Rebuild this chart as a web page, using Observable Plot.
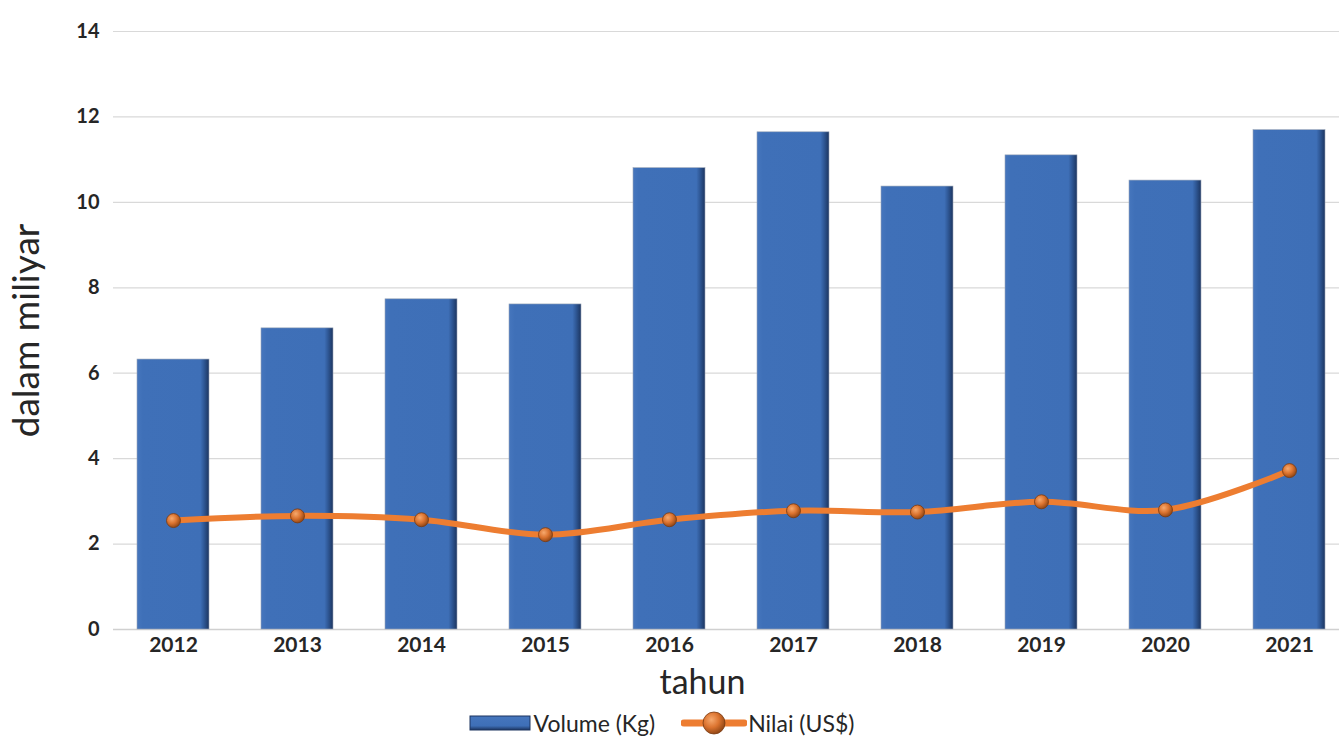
<!DOCTYPE html>
<html><head><meta charset="utf-8">
<script src="https://cdn.jsdelivr.net/npm/d3@7"></script>
<script src="https://cdn.jsdelivr.net/npm/@observablehq/plot@0.6"></script>
<style>
html,body{margin:0;padding:0;background:#fff;overflow:hidden;}
#chart{position:relative;width:1339px;height:736px;}
#legend{position:absolute;left:-8px;top:709px;width:1339px;display:flex;justify-content:center;align-items:center;font-family:Lato,"Open Sans",sans-serif;font-size:23px;color:#262626;}
#legend .item{display:flex;align-items:center;}
</style></head>
<body><div id="chart"></div>
<script>
const years = ["2012","2013","2014","2015","2016","2017","2018","2019","2020","2021"];
const volume = [6.32, 7.05, 7.73, 7.61, 10.80, 11.64, 10.37, 11.10, 10.51, 11.69];
const nilai = [2.55, 2.66, 2.57, 2.22, 2.57, 2.78, 2.75, 2.99, 2.80, 3.72];
const yTicks = [0, 2, 4, 6, 8, 10, 12, 14];

const data = years.map((y, i) => ({year: y, volume: volume[i], nilai: nilai[i]}));

const W = 1339, H = 706;
const plot = Plot.plot({
  width: W, height: H,
  marginLeft: 113, marginRight: 0, marginTop: 31, marginBottom: H - 629,
  style: {fontFamily: "Lato, 'Open Sans', sans-serif", background: "#fff", color: "#262626"},
  x: {domain: years, range: [108, 1353], paddingInner: 0.42, paddingOuter: 0.21, label: null},
  y: {domain: [0, 14], ticks: yTicks, label: null},
  marks: [
    Plot.ruleY(yTicks.filter(d => d > 0), {stroke: "#d9d9d9", strokeWidth: 1.2}),
    Plot.ruleY([0], {stroke: "#d0d0d0", strokeWidth: 1.5}),
    Plot.barY(data, {x: "year", y: "volume", fill: "url(#barGrad)", stroke: "#9aa6b8", strokeWidth: 0.6}),
    Plot.line(data, {x: "year", y: "nilai", stroke: "#ED7D31", strokeWidth: 6, curve: "catmull-rom"}),
    Plot.dot(data, {x: "year", y: "nilai", r: 7, fill: "url(#dotGrad)", stroke: "#7a3a10", strokeWidth: 0.8}),
    Plot.axisY({ticks: yTicks, tickSize: 0, tickPadding: 14, fontSize: 20, fontWeight: "bold", label: null}),
    Plot.axisX({tickSize: 0, tickPadding: 8, fontSize: 21, fontWeight: "bold", label: null}),
    Plot.text(["tahun"], {frameAnchor: "bottom", lineAnchor: "middle", dx: -24, dy: 54, fontSize: 34, fill: "#262626"}),
    Plot.text(["dalam miliyar"], {frameAnchor: "left", textAnchor: "middle", dx: -86, rotate: -90, fontSize: 37, fill: "#262626"})
  ]
});

const ns = "http://www.w3.org/2000/svg";
const defs = document.createElementNS(ns, "defs");
defs.innerHTML = `
<linearGradient id="barGrad" x1="0" x2="1" y1="0" y2="0">
  <stop offset="0" stop-color="#4676bd"/>
  <stop offset="0.08" stop-color="#3f70b8"/>
  <stop offset="0.88" stop-color="#3e6fb7"/>
  <stop offset="0.93" stop-color="#2f5896"/>
  <stop offset="1" stop-color="#1c3560"/>
</linearGradient>
<radialGradient id="dotGrad" cx="0.38" cy="0.35" r="0.7">
  <stop offset="0" stop-color="#f6a96e"/>
  <stop offset="0.5" stop-color="#dc7430"/>
  <stop offset="1" stop-color="#8a4212"/>
</radialGradient>`;
plot.insertBefore(defs, plot.firstChild);

const chart = document.getElementById("chart");
chart.appendChild(plot);

const legend = document.createElement("div");
legend.id = "legend";
legend.innerHTML = `
<div class="item"><svg width="62" height="16"><rect x="1" y="1" width="60" height="14" fill="url(#barGrad2)" stroke="#1c3560" stroke-width="1"/>
<defs><linearGradient id="barGrad2" x1="0" x2="0" y1="0" y2="1"><stop offset="0" stop-color="#4676bd"/><stop offset="0.7" stop-color="#3e6fb7"/><stop offset="1" stop-color="#1c3560"/></linearGradient></defs></svg>
<span style="margin-left:3px">Volume (Kg)</span></div>
<div class="item" style="margin-left:26px"><svg width="66" height="26"><line x1="3" y1="13" x2="63" y2="13" stroke="#ED7D31" stroke-width="7" stroke-linecap="round"/>
<defs><radialGradient id="dotGrad2" cx="0.38" cy="0.35" r="0.7"><stop offset="0" stop-color="#f6a96e"/><stop offset="0.5" stop-color="#dc7430"/><stop offset="1" stop-color="#8a4212"/></radialGradient></defs>
<circle cx="33" cy="13" r="11" fill="url(#dotGrad2)" stroke="#7a3a10" stroke-width="0.8"/></svg>
<span style="margin-left:1px">Nilai (US$)</span></div>`;
chart.appendChild(legend);
</script>
</body></html>
